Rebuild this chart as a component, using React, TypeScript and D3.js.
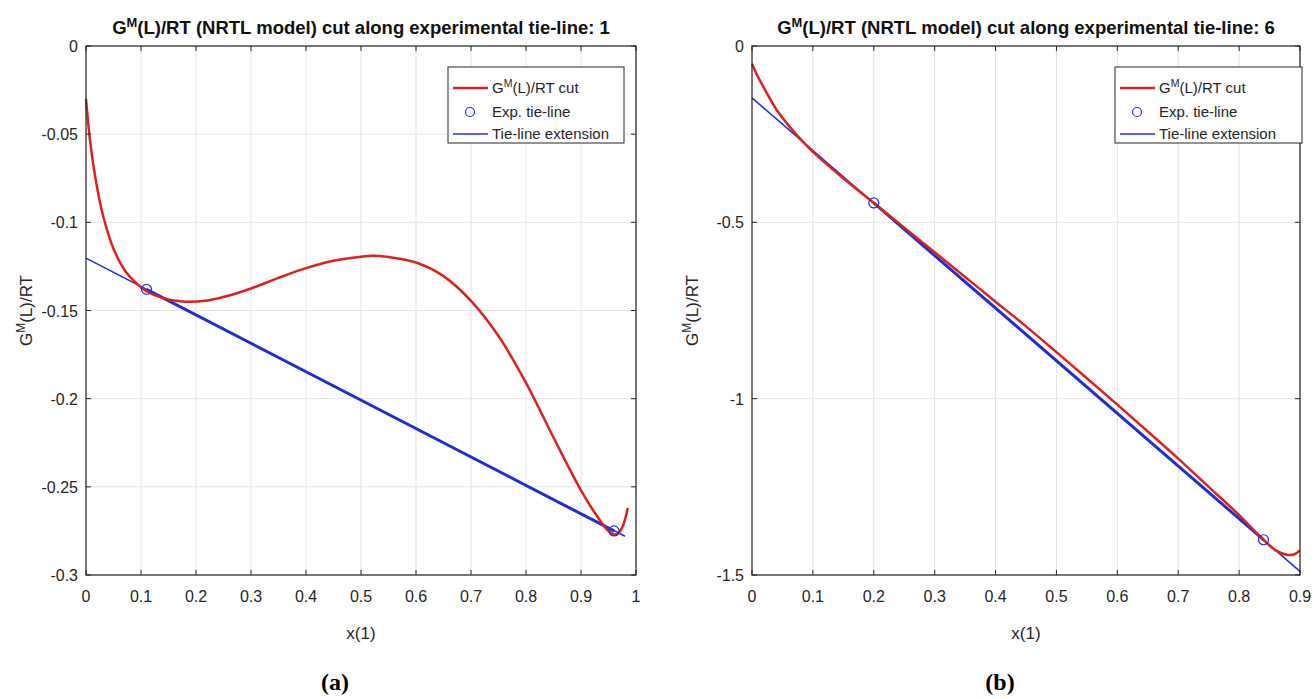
import React from "react";
import * as d3 from "d3";

// panel (a): tie-line 1
const xTicksA = [0, 0.1, 0.2, 0.3, 0.4, 0.5, 0.6, 0.7, 0.8, 0.9, 1];
const yTicksA = [0, -0.05, -0.1, -0.15, -0.2, -0.25, -0.3];
const cutAx = [0, 0.005, 0.01, 0.02, 0.03, 0.05, 0.07, 0.09, 0.11, 0.14, 0.18, 0.22, 0.26, 0.3, 0.35, 0.4, 0.45, 0.5, 0.52, 0.55, 0.6, 0.65, 0.7, 0.75, 0.8, 0.85, 0.9, 0.93, 0.95, 0.965, 0.975, 0.985];
const cutAy = [-0.03, -0.047, -0.06, -0.08, -0.095, -0.115, -0.127, -0.134, -0.139, -0.143, -0.145, -0.1443, -0.1415, -0.1375, -0.1315, -0.126, -0.1218, -0.1195, -0.119, -0.1197, -0.1228, -0.1305, -0.1445, -0.1645, -0.191, -0.222, -0.252, -0.267, -0.275, -0.277, -0.273, -0.262];
const tieAx = [0.11, 0.96];
const tieAy = [-0.138, -0.275];
const extAx = [0, 0.98];
const extAy = [-0.1203, -0.278];

// panel (b): tie-line 6
const xTicksB = [0, 0.1, 0.2, 0.3, 0.4, 0.5, 0.6, 0.7, 0.8, 0.9];
const yTicksB = [0, -0.5, -1, -1.5];
const cutBx = [0, 0.01, 0.02, 0.04, 0.06, 0.08, 0.1, 0.15, 0.2, 0.25, 0.3, 0.35, 0.4, 0.45, 0.5, 0.55, 0.6, 0.65, 0.7, 0.75, 0.8, 0.84, 0.86, 0.88, 0.89, 0.9];
const cutBy = [-0.05, -0.088, -0.12, -0.18, -0.225, -0.265, -0.3, -0.375, -0.445, -0.515, -0.585, -0.655, -0.725, -0.795, -0.868, -0.942, -1.017, -1.093, -1.17, -1.25, -1.33, -1.4, -1.43, -1.443, -1.442, -1.43];
const tieBx = [0.2, 0.84];
const tieBy = [-0.445, -1.4];
const extBx = [0, 0.9];
const extBy = [-0.147, -1.49];

const FONT = "'Liberation Sans', Arial, Helvetica, sans-serif";
const RED = "#e0201c";
const BLUE = "#1f2fd6";
const AXIS = "#262626";
const GRID = "#e3e3e3";

const zip = (xs: number[], ys: number[]) => xs.map((v, i) => [v, ys[i]] as [number, number]);

const GmLabel = ({ size, rest }: { size: number; rest: string }) => (
  <>
    <tspan>G</tspan>
    <tspan dy={-size * 0.4} fontSize={size * 0.7}>M</tspan>
    <tspan dy={size * 0.4}>{rest}</tspan>
  </>
);

function Panel(props: any) {
  const { box, xDomain, yDomain, xTicks, yTicks, cutX, cutY, tieX, tieY, extX, extY, tieNo, tag, tagX, legend } = props;
  const x = d3.scaleLinear().domain(xDomain).range([box.left, box.right]);
  const y = d3.scaleLinear().domain(yDomain).range([box.bottom, box.top]);
  const smooth = d3.line<[number, number]>().x((d) => x(d[0])).y((d) => y(d[1])).curve(d3.curveCatmullRom.alpha(0.5));
  const straight = d3.line<[number, number]>().x((d) => x(d[0])).y((d) => y(d[1]));
  const cx = (box.left + box.right) / 2;
  const cy = (box.top + box.bottom) / 2;
  const tick = 5;

  return (
    <g fontFamily={FONT}>
      {/* grid */}
      {xTicks.map((t: number) => (
        <line key={"gx" + t} x1={x(t)} x2={x(t)} y1={box.top} y2={box.bottom} stroke={GRID} />
      ))}
      {yTicks.map((t: number) => (
        <line key={"gy" + t} x1={box.left} x2={box.right} y1={y(t)} y2={y(t)} stroke={GRID} />
      ))}

      {/* data */}
      <path d={straight(zip(extX, extY)) || ""} fill="none" stroke={BLUE} strokeWidth={1.6} />
      <path d={straight(zip(tieX, tieY)) || ""} fill="none" stroke={BLUE} strokeWidth={3} />
      <path d={smooth(zip(cutX, cutY)) || ""} fill="none" stroke={RED} strokeWidth={2.5} />
      {tieX.map((v: number, i: number) => (
        <circle key={"c" + i} cx={x(v)} cy={y(tieY[i])} r={5} fill="none" stroke={BLUE} strokeWidth={1.2} />
      ))}

      {/* box and ticks */}
      <rect x={box.left} y={box.top} width={box.right - box.left} height={box.bottom - box.top} fill="none" stroke={AXIS} strokeWidth={1.2} />
      {xTicks.map((t: number) => (
        <g key={"tx" + t}>
          <line x1={x(t)} x2={x(t)} y1={box.bottom} y2={box.bottom - tick} stroke={AXIS} />
          <line x1={x(t)} x2={x(t)} y1={box.top} y2={box.top + tick} stroke={AXIS} />
          <text x={x(t)} y={box.bottom + 27} textAnchor="middle" fontSize={16} fill={AXIS}>{String(t)}</text>
        </g>
      ))}
      {yTicks.map((t: number) => (
        <g key={"ty" + t}>
          <line x1={box.left} x2={box.left + tick} y1={y(t)} y2={y(t)} stroke={AXIS} />
          <line x1={box.right} x2={box.right - tick} y1={y(t)} y2={y(t)} stroke={AXIS} />
          <text x={box.left - 8} y={y(t) + 6} textAnchor="end" fontSize={16} fill={AXIS}>{String(t)}</text>
        </g>
      ))}

      {/* labels */}
      <text x={cx} y={box.top - 12} textAnchor="middle" fontSize={18.5} fontWeight="bold" fill="#111">
        <GmLabel size={18.5} rest={`(L)/RT (NRTL model) cut along experimental tie-line: ${tieNo}`} />
      </text>
      <text x={cx} y={box.bottom + 64} textAnchor="middle" fontSize={17} fill={AXIS}>x(1)</text>
      <text transform={`translate(${box.left - 54},${cy}) rotate(-90)`} textAnchor="middle" fontSize={17} fill={AXIS}>
        <GmLabel size={17} rest="(L)/RT" />
      </text>
      <text x={tagX} y={690} textAnchor="middle" fontSize={24} fontWeight="bold" fontFamily="'Liberation Serif', 'Times New Roman', serif" fill="#000">{tag}</text>

      {/* legend */}
      <g transform={`translate(${legend.x},${legend.y})`}>
        <rect width={legend.w} height={76} fill="#fff" stroke={AXIS} strokeWidth={1} />
        <line x1={5} x2={40} y1={21} y2={21} stroke={RED} strokeWidth={2.5} />
        <text x={44} y={26} fontSize={15} fill={AXIS}><GmLabel size={15} rest="(L)/RT cut" /></text>
        <circle cx={22} cy={45} r={4.5} fill="none" stroke={BLUE} strokeWidth={1.2} />
        <text x={44} y={50} fontSize={15} fill={AXIS}>Exp. tie-line</text>
        <line x1={5} x2={40} y1={67} y2={67} stroke={BLUE} strokeWidth={1.4} />
        <text x={44} y={72} fontSize={15} fill={AXIS}>Tie-line extension</text>
      </g>
    </g>
  );
}

export default function App() {
  return (
    <svg width={1314} height={699} style={{ position: "absolute", left: 0, top: 0, background: "#fff" }}>
      <Panel
        box={{ left: 86, right: 636, top: 46, bottom: 575 }}
        xDomain={[0, 1]}
        yDomain={[-0.3, 0]}
        xTicks={xTicksA}
        yTicks={yTicksA}
        cutX={cutAx}
        cutY={cutAy}
        tieX={tieAx}
        tieY={tieAy}
        extX={extAx}
        extY={extAy}
        tieNo={1}
        tag="(a)"
        tagX={335}
        legend={{ x: 448, y: 67, w: 176 }}
      />
      <Panel
        box={{ left: 752, right: 1300, top: 46, bottom: 575 }}
        xDomain={[0, 0.9]}
        yDomain={[-1.5, 0]}
        xTicks={xTicksB}
        yTicks={yTicksB}
        cutX={cutBx}
        cutY={cutBy}
        tieX={tieBx}
        tieY={tieBy}
        extX={extBx}
        extY={extBy}
        tieNo={6}
        tag="(b)"
        tagX={1000}
        legend={{ x: 1115, y: 67, w: 187 }}
      />
    </svg>
  );
}
